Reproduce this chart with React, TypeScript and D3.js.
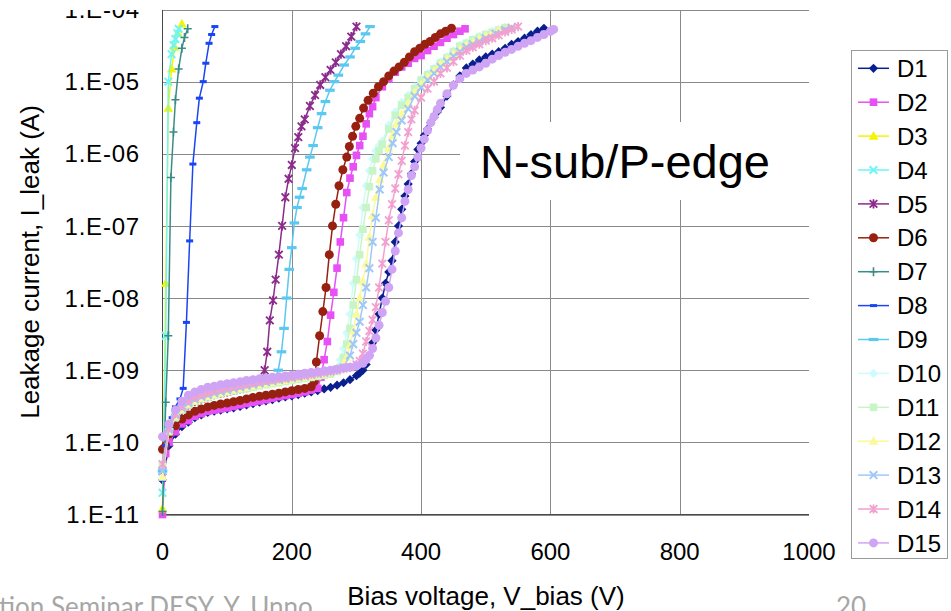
import React from "react";
import * as d3 from "d3";

type P = [number, number];

// Bias voltage (V), leakage current (A)
const D1: P[] = [[0,3e-11],[10,9e-11],[20,1.3e-10],[30,1.65e-10],[40,1.9e-10],[50,2.2e-10],[60,2.4e-10],[70,2.6e-10],[80,2.7e-10],[90,2.8e-10],[100,2.9e-10],[110,3.0e-10],[120,3.15e-10],[130,3.3e-10],[140,3.45e-10],[150,3.6e-10],[160,3.75e-10],[170,3.9e-10],[180,4.1e-10],[190,4.25e-10],[200,4.4e-10],[210,4.6e-10],[220,4.8e-10],[230,5.0e-10],[240,5.2e-10],[250,5.5e-10],[260,5.8e-10],[270,6.2e-10],[280,6.7e-10],[290,7.4e-10],[300,8.4e-10],[305,9.1e-10],[310,1.0e-9],[315,1.2e-9],[320,1.6e-9],[325,2.4e-9],[330,3.6e-9],[335,6.0e-9],[340,1.0e-8],[345,1.6e-8],[350,2.3e-8],[355,3.3e-8],[360,6.0e-8],[365,1.0e-7],[370,1.7e-7],[375,2.6e-7],[380,3.8e-7],[385,5.3e-7],[390,7.8e-7],[395,1.15e-6],[400,1.4e-6],[405,1.8e-6],[410,2.2e-6],[415,2.7e-6],[420,3.2e-6],[425,3.8e-6],[430,4.4e-6],[440,6.3e-6],[450,9.0e-6],[460,1.2e-5],[470,1.55e-5],[480,1.75e-5],[490,2.0e-5],[500,2.2e-5],[510,2.4e-5],[520,2.6e-5],[530,2.9e-5],[540,3.3e-5],[550,3.6e-5],[560,4.0e-5],[570,4.5e-5],[580,5.0e-5],[590,5.5e-5]];
const D2: P[] = [[0,1.0e-11],[5,7e-11],[10,1.0e-10],[20,1.4e-10],[30,1.8e-10],[40,2.0e-10],[50,2.3e-10],[60,2.5e-10],[70,2.7e-10],[80,2.8e-10],[90,2.9e-10],[100,3.0e-10],[110,3.15e-10],[120,3.3e-10],[130,3.45e-10],[140,3.6e-10],[150,3.75e-10],[160,3.9e-10],[170,4.1e-10],[180,4.3e-10],[190,4.45e-10],[200,4.6e-10],[210,4.8e-10],[220,5.0e-10],[230,5.3e-10],[240,5.6e-10],[245,8e-10],[250,1.4e-9],[255,2.5e-9],[260,5.8e-9],[265,1.2e-8],[270,2.6e-8],[275,6e-8],[280,1.3e-7],[285,2.9e-7],[290,4.6e-7],[295,6.6e-7],[300,9.5e-7],[305,1.3e-6],[310,1.75e-6],[315,2.6e-6],[320,3.6e-6],[325,4.5e-6],[330,6.0e-6],[340,8.5e-6],[350,1.1e-5],[360,1.35e-5],[370,1.6e-5],[380,1.8e-5],[390,2.1e-5],[400,2.3e-5],[410,2.7e-5],[420,3.1e-5],[430,3.5e-5],[440,4.0e-5],[450,4.5e-5],[460,5.0e-5],[468,5.4e-5]];
const D3: P[] = [[0,1.2e-11],[5,1.6e-8],[9,4.3e-6],[14,1.5e-5],[19,3.0e-5],[24,4.7e-5],[30,6.3e-5]];
const D4: P[] = [[0,2e-11],[5,3e-9],[9,1.0e-5],[14,2.4e-5],[17,3.2e-5],[20,3.9e-5],[23,4.7e-5],[25,5.4e-5]];
const D5: P[] = [[0,4e-11],[10,1.5e-10],[20,2.2e-10],[30,2.8e-10],[40,3.3e-10],[50,3.7e-10],[60,4.0e-10],[70,4.3e-10],[80,4.6e-10],[90,4.8e-10],[100,5.0e-10],[110,5.25e-10],[120,5.5e-10],[130,5.75e-10],[140,6.0e-10],[150,6.5e-10],[155,7.5e-10],[158,1.0e-9],[162,1.8e-9],[166,4.9e-9],[171,9.3e-9],[175,1.8e-8],[180,4.0e-8],[185,1.0e-7],[190,2.5e-7],[195,4.5e-7],[200,7.0e-7],[205,1.2e-6],[210,1.7e-6],[215,2.4e-6],[220,3.0e-6],[228,4.6e-6],[236,6.5e-6],[244,9.0e-6],[252,1.15e-5],[260,1.45e-5],[268,1.85e-5],[276,2.4e-5],[284,3.1e-5],[292,4.2e-5],[300,5.8e-5]];
const D6: P[] = [[0,8e-11],[5,9e-11],[10,1.3e-10],[20,1.7e-10],[30,2.1e-10],[40,2.4e-10],[50,2.7e-10],[60,2.9e-10],[70,3.1e-10],[80,3.25e-10],[90,3.4e-10],[100,3.5e-10],[110,3.65e-10],[120,3.8e-10],[130,4.0e-10],[140,4.2e-10],[150,4.35e-10],[160,4.5e-10],[170,4.65e-10],[180,4.8e-10],[190,5.0e-10],[200,5.2e-10],[210,5.4e-10],[220,5.6e-10],[230,5.9e-10],[235,7.0e-10],[238,1.3e-9],[243,3.0e-9],[248,6.5e-9],[253,1.4e-8],[258,4.0e-8],[263,1.0e-7],[268,2.0e-7],[273,3.6e-7],[279,6.0e-7],[285,9.0e-7],[289,1.26e-6],[294,1.75e-6],[299,2.4e-6],[305,3.1e-6],[311,4.3e-6],[318,5.5e-6],[326,6.9e-6],[334,8.5e-6],[342,1.0e-5],[350,1.2e-5],[358,1.4e-5],[366,1.6e-5],[374,1.85e-5],[382,2.2e-5],[390,2.6e-5],[398,2.9e-5],[406,3.3e-5],[414,3.6e-5],[422,4.1e-5],[430,4.6e-5],[438,5.0e-5],[447,5.5e-5]];
const D7: P[] = [[0,1.1e-11],[5,3.6e-10],[9,3.0e-9],[13,4.7e-7],[17,2.0e-6],[20,5.6e-6],[25,1.5e-5],[30,2.9e-5],[34,4.1e-5],[39,5.4e-5]];
const D8: P[] = [[0,3e-11],[5,9e-11],[10,1.5e-10],[15,2.2e-10],[20,3.1e-10],[27,4.0e-10],[32,5.6e-10],[37,4.6e-9],[42,6.2e-8],[47,7.2e-7],[53,2.7e-6],[57,5.9e-6],[63,1.0e-5],[67,1.8e-5],[72,3.4e-5],[76,4.5e-5],[81,5.8e-5]];
const D9: P[] = [[0,4e-11],[10,1.5e-10],[20,2.3e-10],[30,2.9e-10],[40,3.4e-10],[50,3.8e-10],[60,4.1e-10],[70,4.4e-10],[80,4.7e-10],[90,5.0e-10],[100,5.2e-10],[110,5.45e-10],[120,5.7e-10],[130,6.0e-10],[140,6.3e-10],[150,6.5e-10],[160,6.8e-10],[170,7.3e-10],[175,8.0e-10],[179,1.0e-9],[184,1.8e-9],[188,3.8e-9],[192,1.0e-8],[196,2.5e-8],[200,5.0e-8],[204,1.1e-7],[208,1.8e-7],[212,2.5e-7],[216,3.3e-7],[223,6.0e-7],[228,9.0e-7],[233,1.3e-6],[240,2.3e-6],[246,3.6e-6],[252,5.3e-6],[259,7.6e-6],[266,1.0e-5],[272,1.23e-5],[281,1.7e-5],[290,2.2e-5],[298,2.9e-5],[306,3.6e-5],[314,4.6e-5],[321,5.8e-5]];
const D10: P[] = [[0,5e-11],[10,1.5e-10],[20,2.3e-10],[30,2.9e-10],[40,3.4e-10],[50,3.8e-10],[60,4.1e-10],[70,4.4e-10],[80,4.6e-10],[90,4.9e-10],[100,5.1e-10],[110,5.3e-10],[120,5.5e-10],[130,5.8e-10],[140,6.0e-10],[150,6.3e-10],[160,6.5e-10],[170,6.7e-10],[180,6.9e-10],[190,7.2e-10],[200,7.4e-10],[210,7.7e-10],[220,7.9e-10],[230,8.1e-10],[240,8.4e-10],[250,8.8e-10],[260,9.2e-10],[270,1.05e-9],[275,1.4e-9],[280,2.0e-9],[285,3.3e-9],[290,6.0e-9],[295,1.6e-8],[300,3.5e-8],[305,7.5e-8],[310,1.8e-7],[315,3.6e-7],[320,5.8e-7],[325,8.5e-7],[330,1.1e-6],[335,1.3e-6],[340,1.5e-6],[350,2.5e-6],[360,3.8e-6],[370,5.2e-6],[380,6.5e-6],[390,8.5e-6],[400,1.1e-5],[410,1.3e-5],[420,1.55e-5],[430,1.9e-5],[440,2.25e-5],[450,2.7e-5],[460,3.2e-5],[470,3.5e-5],[480,3.9e-5],[490,4.3e-5],[500,4.6e-5],[510,5.0e-5],[520,5.3e-5],[530,5.7e-5]];
const D11: P[] = [[0,4.9e-11],[10,1.4e-10],[20,2.2e-10],[30,2.8e-10],[40,3.3e-10],[50,3.7e-10],[60,4.0e-10],[70,4.25e-10],[80,4.5e-10],[90,4.75e-10],[100,5.0e-10],[110,5.2e-10],[120,5.4e-10],[130,5.6e-10],[140,5.8e-10],[150,6.05e-10],[160,6.3e-10],[170,6.5e-10],[180,6.7e-10],[190,6.95e-10],[200,7.2e-10],[210,7.45e-10],[220,7.7e-10],[230,7.95e-10],[240,8.2e-10],[250,8.5e-10],[260,8.8e-10],[270,9.6e-10],[275,1.1e-9],[280,1.5e-9],[285,2.3e-9],[290,3.8e-9],[295,8.0e-9],[300,1.8e-8],[305,4.0e-8],[310,9.0e-8],[315,1.8e-7],[320,3.5e-7],[325,5.8e-7],[330,8.5e-7],[335,1.1e-6],[340,1.35e-6],[350,2.2e-6],[360,3.4e-6],[370,4.7e-6],[380,6.0e-6],[390,8.0e-6],[400,1.05e-5],[410,1.25e-5],[420,1.5e-5],[430,1.8e-5],[440,2.15e-5],[450,2.6e-5],[460,3.1e-5],[470,3.4e-5],[480,3.8e-5],[490,4.1e-5],[500,4.5e-5],[510,4.8e-5],[520,5.2e-5],[530,5.6e-5]];
const D12: P[] = [[0,3.3e-11],[10,1.45e-10],[20,2.3e-10],[30,2.9e-10],[40,3.4e-10],[50,3.8e-10],[60,4.1e-10],[70,4.35e-10],[80,4.6e-10],[90,4.85e-10],[100,5.1e-10],[110,5.35e-10],[120,5.6e-10],[130,5.8e-10],[140,6.0e-10],[150,6.25e-10],[160,6.5e-10],[170,6.75e-10],[180,7.0e-10],[190,7.25e-10],[200,7.5e-10],[210,7.75e-10],[220,8.0e-10],[230,8.3e-10],[240,8.6e-10],[250,8.9e-10],[260,9.3e-10],[270,1.0e-9],[280,1.2e-9],[285,1.5e-9],[290,2.2e-9],[295,3.5e-9],[300,6.0e-9],[305,1.0e-8],[310,1.7e-8],[315,3.0e-8],[320,7.0e-8],[325,1.4e-7],[330,2.5e-7],[336,4.4e-7],[342,7.0e-7],[350,1.2e-6],[356,1.8e-6],[362,2.6e-6],[370,3.5e-6],[380,5.0e-6],[390,7.0e-6],[400,9.0e-6],[410,1.15e-5],[420,1.4e-5],[430,1.75e-5],[440,2.05e-5],[450,2.4e-5],[460,2.8e-5],[470,3.2e-5],[480,3.5e-5],[490,3.9e-5],[500,4.3e-5],[510,4.7e-5],[520,5.1e-5],[535,5.6e-5]];
const D13: P[] = [[0,4e-11],[10,1.5e-10],[20,2.4e-10],[30,3.0e-10],[40,3.5e-10],[50,3.95e-10],[60,4.3e-10],[70,4.55e-10],[80,4.8e-10],[90,5.05e-10],[100,5.3e-10],[110,5.55e-10],[120,5.8e-10],[130,6.05e-10],[140,6.3e-10],[150,6.55e-10],[160,6.8e-10],[170,7.05e-10],[180,7.3e-10],[190,7.55e-10],[200,7.8e-10],[210,8.05e-10],[220,8.3e-10],[230,8.6e-10],[240,8.9e-10],[250,9.2e-10],[260,9.6e-10],[270,1.02e-9],[280,1.1e-9],[290,1.6e-9],[295,2.3e-9],[300,3.3e-9],[305,4.7e-9],[310,8.0e-9],[315,1.4e-8],[320,2.6e-8],[325,6.0e-8],[330,1.3e-7],[336,3.2e-7],[342,5.5e-7],[350,9.0e-7],[356,1.4e-6],[362,2.0e-6],[370,2.9e-6],[380,4.2e-6],[390,6.3e-6],[400,8.3e-6],[410,1.05e-5],[420,1.3e-5],[430,1.6e-5],[440,1.9e-5],[450,2.25e-5],[460,2.6e-5],[470,3.0e-5],[480,3.3e-5],[490,3.6e-5],[500,4.0e-5],[515,4.6e-5],[530,5.2e-5],[540,5.6e-5]];
const D14: P[] = [[0,5e-11],[10,1.6e-10],[20,2.5e-10],[30,3.2e-10],[40,3.8e-10],[50,4.2e-10],[60,4.6e-10],[70,4.9e-10],[80,5.2e-10],[90,5.45e-10],[100,5.7e-10],[110,5.95e-10],[120,6.2e-10],[130,6.45e-10],[140,6.7e-10],[150,6.95e-10],[160,7.2e-10],[170,7.4e-10],[180,7.6e-10],[190,7.85e-10],[200,8.1e-10],[210,8.35e-10],[220,8.6e-10],[230,8.85e-10],[240,9.1e-10],[250,9.4e-10],[260,9.7e-10],[270,1.01e-9],[280,1.05e-9],[290,1.1e-9],[300,1.2e-9],[305,1.35e-9],[310,1.7e-9],[315,2.5e-9],[320,3.5e-9],[325,5.0e-9],[330,7.5e-9],[335,1.4e-8],[340,3.0e-8],[345,6.0e-8],[350,1.2e-7],[355,2.0e-7],[360,3.3e-7],[365,5.2e-7],[370,8.0e-7],[375,1.3e-6],[380,2.0e-6],[385,3.0e-6],[390,4.0e-6],[400,6.0e-6],[410,8.0e-6],[420,1.0e-5],[430,1.3e-5],[440,1.55e-5],[450,1.9e-5],[460,2.3e-5],[470,2.7e-5],[480,3.0e-5],[490,3.3e-5],[500,3.7e-5],[510,4.0e-5],[520,4.4e-5],[530,4.9e-5],[540,5.3e-5],[550,5.8e-5]];
const D15: P[] = [[0,1.2e-10],[10,1.8e-10],[20,2.8e-10],[30,3.7e-10],[40,4.5e-10],[50,5.0e-10],[60,5.4e-10],[70,5.8e-10],[80,6.0e-10],[90,6.3e-10],[100,6.5e-10],[110,6.7e-10],[120,6.9e-10],[130,7.2e-10],[140,7.4e-10],[150,7.6e-10],[160,7.8e-10],[170,8.0e-10],[180,8.1e-10],[190,8.3e-10],[200,8.5e-10],[210,8.8e-10],[220,9.1e-10],[230,9.3e-10],[240,9.5e-10],[250,9.8e-10],[260,1.0e-9],[270,1.03e-9],[280,1.07e-9],[290,1.1e-9],[300,1.15e-9],[310,1.25e-9],[315,1.4e-9],[320,1.6e-9],[325,2.0e-9],[330,2.8e-9],[335,4.2e-9],[340,6.3e-9],[345,9.0e-9],[350,1.4e-8],[355,2.5e-8],[360,4.5e-8],[365,8.0e-8],[370,1.3e-7],[375,2.2e-7],[380,3.2e-7],[385,5.0e-7],[390,6.6e-7],[395,9.0e-7],[400,1.2e-6],[405,1.6e-6],[410,2.1e-6],[415,2.7e-6],[420,3.3e-6],[425,4.1e-6],[430,5.0e-6],[440,6.8e-6],[450,8.9e-6],[460,1.1e-5],[470,1.3e-5],[480,1.45e-5],[490,1.6e-5],[500,1.8e-5],[510,2.05e-5],[520,2.3e-5],[530,2.55e-5],[540,2.8e-5],[550,3.1e-5],[560,3.4e-5],[570,3.7e-5],[580,4.1e-5],[590,4.5e-5],[600,5.0e-5],[605,5.3e-5]];

const seriesNames = ["D1","D2","D3","D4","D5","D6","D7","D8","D9","D10","D11","D12","D13","D14","D15"];
const seriesData = [D1,D2,D3,D4,D5,D6,D7,D8,D9,D10,D11,D12,D13,D14,D15];
const seriesColors = ["#0a1f8f","#e650f5","#f5f500","#70f5f5","#8b2b8b","#982010","#3a8c88","#1a45f5","#5ac8f0","#cdfcfc","#c8f5c8","#fafa9a","#9fc8f8","#f2a0cf","#d0a4f5"];
const seriesMarkers = ["diamond","square","triangle","x","asterisk","circle","plus","dash","longdash","diamond","square","triangle","x","asterisk","circle"];

const xTicks = [0, 200, 400, 600, 800, 1000];
const yTicks = [1e-11, 1e-10, 1e-9, 1e-8, 1e-7, 1e-6, 1e-5, 1e-4];
const yTickLabels = ["1.E-11","1.E-10","1.E-09","1.E-08","1.E-07","1.E-06","1.E-05","1.E-04"];

const FONT = "'Liberation Sans', Arial, sans-serif";

function Marker({ type, color, x, y }: { type: string; color: string; x: number; y: number }) {
  const t = `translate(${x},${y})`;
  switch (type) {
    case "circle":
      return <circle cx={x} cy={y} r={4.5} fill={color} />;
    case "square":
      return <rect x={x - 3.8} y={y - 3.8} width={7.6} height={7.6} fill={color} />;
    case "diamond":
      return <path transform={t} d="M0,-4.6L4.6,0L0,4.6L-4.6,0Z" fill={color} />;
    case "triangle":
      return <path transform={t} d="M0,-5.2L4.8,3.6L-4.8,3.6Z" fill={color} />;
    case "x":
      return <path transform={t} d="M-3.8,-3.8L3.8,3.8M-3.8,3.8L3.8,-3.8" stroke={color} strokeWidth={2} fill="none" />;
    case "asterisk":
      return <path transform={t} d="M-3.8,-3.8L3.8,3.8M-3.8,3.8L3.8,-3.8M0,-4.6L0,4.6" stroke={color} strokeWidth={1.8} fill="none" />;
    case "plus":
      return <path transform={t} d="M0,-4.5L0,4.5M-4,0L4,0" stroke={color} strokeWidth={1.6} fill="none" />;
    case "dash":
      return <rect x={x - 3.5} y={y - 1.5} width={7} height={3} fill={color} />;
    case "longdash":
      return <rect x={x - 4.8} y={y - 1.6} width={9.6} height={3.2} fill={color} />;
  }
  return null;
}

export default function App() {
  const W = 951, H = 611;
  const x = d3.scaleLinear().domain([0, 1000]).range([162.5, 809]);
  const y = d3.scaleLog().domain([1e-11, 1e-4]).range([514.5, 9.5]);
  const line = d3.line<P>().x((d) => x(d[0])).y((d) => y(d[1]));

  const legendX = 851, legendY = 50, legendW = 96, legendH = 508;
  const legendRow = (i: number) => 68.3 + i * 33.9;

  return (
    <svg width={W} height={H} style={{ position: "absolute", left: 0, top: 0, background: "#fff" }} fontFamily={FONT}>
      <rect x={0} y={0} width={W} height={H} fill="#fff" />
      <defs>
        <clipPath id="plotclip">
          <rect x={150} y={9.5} width={670} height={512} />
        </clipPath>
      </defs>
      {/* grid */}
      {yTicks.map((t, i) => (
        <line key={"gy" + i} x1={162.5} x2={809} y1={Math.round(y(t)) + 0.5} y2={Math.round(y(t)) + 0.5} stroke="#8a8a8a" strokeWidth={1} />
      ))}
      {xTicks.slice(1, 5).map((t, i) => (
        <line key={"gx" + i} x1={Math.round(x(t)) + 0.5} x2={Math.round(x(t)) + 0.5} y1={9.5} y2={514.5} stroke="#8a8a8a" strokeWidth={1} />
      ))}
      {/* annotation box */}
      <rect x={460} y={122} width={360} height={78} fill="#fff" />
      <text x={480} y={178} fontSize={47} fill="#000">N-sub/P-edge</text>
      {/* axes */}
      <line x1={162.5} x2={162.5} y1={9.5} y2={515} stroke="#4a4a4a" strokeWidth={1} />
      <line x1={162} x2={809} y1={514.5} y2={514.5} stroke="#4a4a4a" strokeWidth={1} />
      {/* series */}
      <g clipPath="url(#plotclip)">
        {seriesData.map((data, si) => (
          <g key={"s" + si}>
            <path d={line(data) || ""} fill="none" stroke={seriesColors[si]} strokeWidth={1.5} />
            {data.map((d, pi) => (
              <Marker key={pi} type={seriesMarkers[si]} color={seriesColors[si]} x={x(d[0])} y={y(d[1])} />
            ))}
          </g>
        ))}
      </g>
      {/* y tick labels */}
      {yTicks.map((t, i) => (
        <text key={"ty" + i} x={140} y={y(t)} dy="0.36em" textAnchor="end" fontSize={24} letterSpacing={0.8} fill="#000">{yTickLabels[i]}</text>
      ))}
      {/* x tick labels */}
      {xTicks.map((t, i) => (
        <text key={"tx" + i} x={x(t)} y={560} textAnchor="middle" fontSize={24} fill="#000">{t}</text>
      ))}
      {/* top white cover (cropped slide) */}
      <rect x={0} y={0} width={W} height={10} fill="#fff" />
      {/* legend */}
      <rect x={legendX + 0.5} y={legendY + 0.5} width={legendW} height={legendH} fill="#fff" stroke="#9a9a9a" strokeWidth={1} />
      {seriesNames.map((n, i) => (
        <g key={"lg" + i}>
          <line x1={858} x2={889} y1={legendRow(i)} y2={legendRow(i)} stroke={seriesColors[i]} strokeWidth={1.5} />
          <Marker type={seriesMarkers[i]} color={seriesColors[i]} x={873.5} y={legendRow(i)} />
          <text x={897} y={legendRow(i)} dy="0.36em" fontSize={24} fill="#000">{n}</text>
        </g>
      ))}
      {/* footer (slide) */}
      <text x={-1} y={616} fontSize={26} fill="#a6a6a6" fontFamily="Lato, 'Open Sans', sans-serif">tion Seminar DESY, Y. Unno</text>
      <text x={836} y={616} fontSize={26} fill="#a6a6a6" fontFamily="Lato, 'Open Sans', sans-serif">20</text>
      {/* axis titles */}
      <text x={486} y={605} textAnchor="middle" fontSize={26} fill="#000">Bias voltage, V_bias (V)</text>
      <text transform="translate(39,262) rotate(-90)" textAnchor="middle" fontSize={26} fill="#000">Leakage current, I_leak (A)</text>
    </svg>
  );
}
